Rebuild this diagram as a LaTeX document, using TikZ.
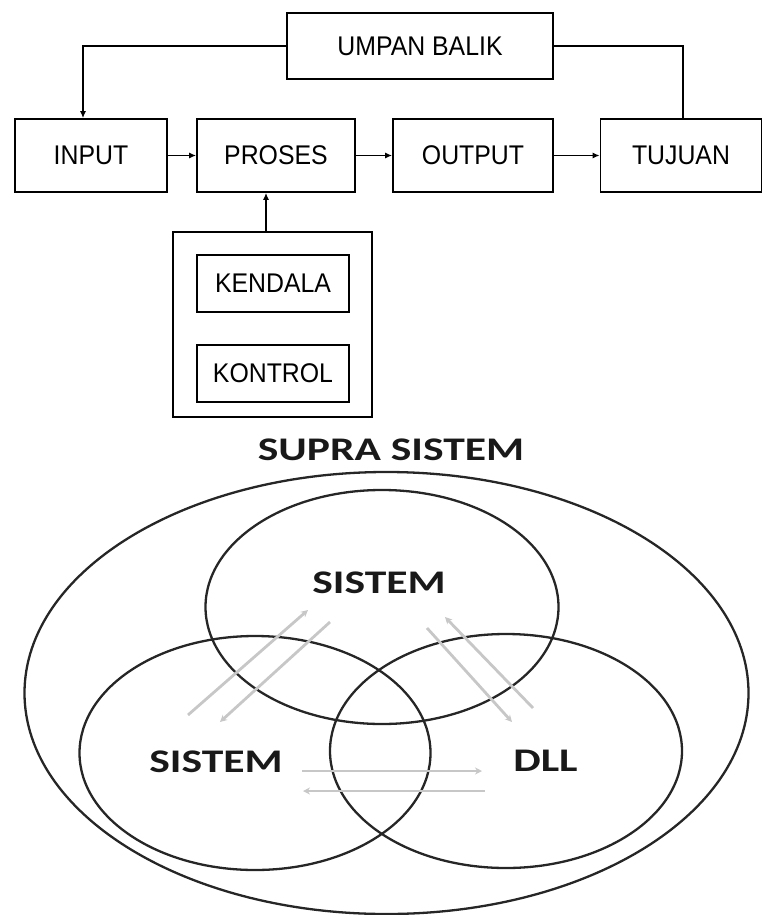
\documentclass[tikz,border=0pt]{standalone}
\usepackage{fontspec}
\setmainfont{Liberation Sans}
\newfontfamily\vennfont{Carlito}
\usetikzlibrary{arrows.meta}

% slightly narrowed box captions
\newcommand{\boxcaption}[1]{\scalebox{0.92}[1]{#1}}

\begin{document}
\begin{tikzpicture}[x=1pt,y=-1pt,
  box/.style={draw, line width=1.7pt, inner sep=0pt,
    font=\fontsize{27}{27}\selectfont},
  flow/.style={line width=1.7pt, -{Latex[length=7pt,width=6pt]}},
  wire/.style={line width=1.7pt},
  ring/.style={draw=black!85, line width=2.3pt},
  hint/.style={draw=black!22, line width=2.8pt, -{Stealth[length=7pt,width=7pt]}},
  lbl/.style={font=\vennfont\bfseries\fontsize{33}{33}\selectfont, text=black!90, inner sep=0pt}
]
\useasboundingbox (0,0) rectangle (763,915);

% ---- process flow ----
\node[box, minimum width=266pt, minimum height=66pt] (umpan) at (420,46) {\boxcaption{UMPAN BALIK}};
\node[box, minimum width=152pt, minimum height=73pt] (input) at (91,155.5) {\boxcaption{INPUT}};
\node[box, minimum width=158pt, minimum height=73pt] (proses) at (276,155.5) {\boxcaption{PROSES}};
\node[box, minimum width=160pt, minimum height=73pt] (output) at (473,155.5) {\boxcaption{OUTPUT}};
\node[box, minimum width=161pt, minimum height=73pt] (tujuan) at (681,155.5) {\boxcaption{TUJUAN}};

\node[box, minimum width=199pt, minimum height=185pt] (ctrl) at (272.5,324.5) {};
\node[box, minimum width=152pt, minimum height=57pt] (kendala) at (273,283.5) {\boxcaption{KENDALA}};
\node[box, minimum width=152pt, minimum height=57pt] (kontrol) at (273,373.5) {\boxcaption{KONTROL}};

\draw[flow] (input) -- (proses);
\draw[flow] (proses) -- (output);
\draw[flow] (output) -- (tujuan);
\draw[flow] ([xshift=-6.5pt]ctrl.north) -- ([xshift=-6.5pt]ctrl.north |- proses.south);
\draw[flow] (umpan.west) -| ([xshift=-8pt]input.north);
\draw[wire] (umpan.east) -| ([xshift=2pt]tujuan.north);

% ---- system / supra system ----
\node[lbl] (supra) at (391,450) {\scalebox{1.32}[1]{SUPRA SISTEM}};

\draw[ring] (386.5,693) ellipse [x radius=362, y radius=221];
\draw[ring] (382,607) ellipse [x radius=176.5, y radius=117];
\draw[ring] (255,753) ellipse [x radius=175.5, y radius=117];
\draw[ring] (506,751) ellipse [x radius=176, y radius=117];

\node[lbl] (stop) at (379,583) {\scalebox{1.32}[1]{SISTEM}};
\node[lbl] (sleft) at (216,762) {\scalebox{1.32}[1]{SISTEM}};
\node[lbl] (dll) at (545.5,761) {\scalebox{1.32}[1]{DLL}};

% exchange arrows between the circles
\coordinate (a1) at (188,715);  \coordinate (a2) at (308,610);
\coordinate (b1) at (330,622);  \coordinate (b2) at (220,722);
\coordinate (c1) at (533,708);  \coordinate (c2) at (445,617);
\coordinate (d1) at (427,628);  \coordinate (d2) at (512,722);
\coordinate (e1) at (302,771);  \coordinate (e2) at (482,771);
\coordinate (f1) at (485,791);  \coordinate (f2) at (303,791);
\draw[hint] (a1) -- (a2);
\draw[hint] (b1) -- (b2);
\draw[hint] (c1) -- (c2);
\draw[hint] (d1) -- (d2);
\draw[hint] (e1) -- (e2);
\draw[hint] (f1) -- (f2);
\end{tikzpicture}
\end{document}
